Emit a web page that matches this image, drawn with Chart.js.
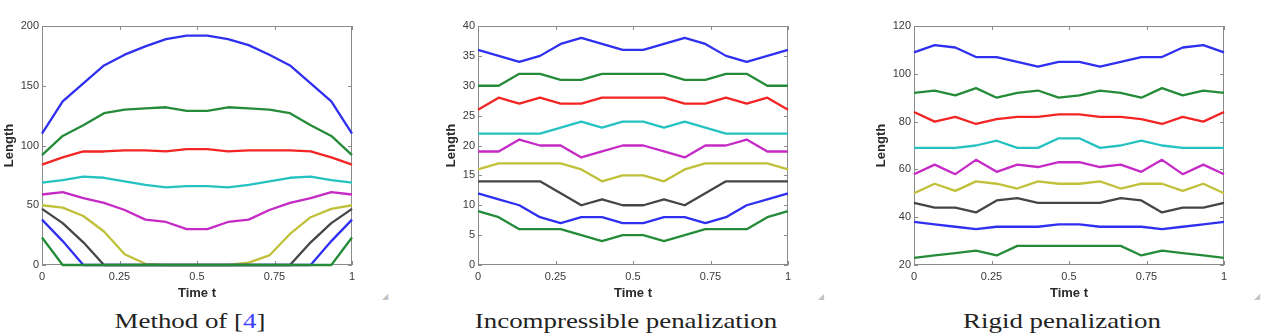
<!DOCTYPE html>
<html>
<head>
<meta charset="utf-8">
<script src="https://cdn.jsdelivr.net/npm/chart.js@4.4.1/dist/chart.umd.min.js"></script>
<style>
  body { margin: 0; background: #fff; width: 1263px; height: 336px; overflow: hidden; position: relative; }
  canvas { position: absolute; top: 0; }
  .caption {
    position: absolute; top: 309px; white-space: nowrap;
    font-family: "Liberation Serif", "Times New Roman", serif; font-size: 21px; color: #222;
    transform: translateX(-50%) scaleX(1.28);
  }
  .caption .ref { color: #4040ff; }
  .corner { position: absolute; top: 292px; font-size: 8px; color: #c4c4c4; font-family: "DejaVu Sans", sans-serif; }
</style>
</head>
<body>
<canvas id="c1"></canvas>
<canvas id="c2"></canvas>
<canvas id="c3"></canvas>
<div class="caption" style="left:190px">Method of [<span class="ref">4</span>]</div>
<div class="caption" style="left:626px">Incompressible penalization</div>
<div class="caption" style="left:1062px">Rigid penalization</div>
<div class="corner" style="left:382px">◢</div>
<div class="corner" style="left:818px">◢</div>
<div class="corner" style="left:1254px">◢</div>
<script>
// temps (16 instants entre 0 et 1)
const TIME = [0, 0.0667, 0.1333, 0.2, 0.2667, 0.3333, 0.4, 0.4667, 0.5333, 0.6, 0.6667, 0.7333, 0.8, 0.8667, 0.9333, 1];
const X_TICKS = [0, 0.25, 0.5, 0.75, 1];

// Method of [4]
const methodBlue    = [110, 137, 152, 167, 176, 183, 189, 192, 192, 189, 184, 176, 167, 152, 137, 110];
const methodGreen   = [92, 108, 117, 127, 130, 131, 132, 129, 129, 132, 131, 130, 127, 117, 108, 92];
const methodRed     = [84, 90, 95, 95, 96, 96, 95, 97, 97, 95, 96, 96, 96, 95, 90, 84];
const methodCyan    = [69, 71, 74, 73, 70, 67, 65, 66, 66, 65, 67, 70, 73, 74, 71, 69];
const methodMagenta = [59, 61, 56, 52, 46, 38, 36, 30, 30, 36, 38, 46, 52, 56, 61, 59];
const methodYellow  = [50, 48, 41, 28, 9, 1, 0, 0, 0, 0, 2, 8, 26, 40, 47, 50];
const methodBlack   = [47, 35, 19, 0, 0, 0, 0, 0, 0, 0, 0, 0, 0, 19, 35, 47];
const methodBlue2   = [38, 20, 0, 0, 0, 0, 0, 0, 0, 0, 0, 0, 0, 0, 20, 38];
const methodGreen2  = [23, 0, 0, 0, 0, 0, 0, 0, 0, 0, 0, 0, 0, 0, 0, 23];

// Incompressible penalization
const incBlue    = [36, 35, 34, 35, 37, 38, 37, 36, 36, 37, 38, 37, 35, 34, 35, 36];
const incGreen   = [30, 30, 32, 32, 31, 31, 32, 32, 32, 32, 31, 31, 32, 32, 30, 30];
const incRed     = [26, 28, 27, 28, 27, 27, 28, 28, 28, 28, 27, 27, 28, 27, 28, 26];
const incCyan    = [22, 22, 22, 22, 23, 24, 23, 24, 24, 23, 24, 23, 22, 22, 22, 22];
const incMagenta = [19, 19, 21, 20, 20, 18, 19, 20, 20, 19, 18, 20, 20, 21, 19, 19];
const incYellow  = [16, 17, 17, 17, 17, 16, 14, 15, 15, 14, 16, 17, 17, 17, 17, 16];
const incBlack   = [14, 14, 14, 14, 12, 10, 11, 10, 10, 11, 10, 12, 14, 14, 14, 14];
const incBlue2   = [12, 11, 10, 8, 7, 8, 8, 7, 7, 8, 8, 7, 8, 10, 11, 12];
const incGreen2  = [9, 8, 6, 6, 6, 5, 4, 5, 5, 4, 5, 6, 6, 6, 8, 9];

// Rigid penalization
const rigBlue    = [109, 112, 111, 107, 107, 105, 103, 105, 105, 103, 105, 107, 107, 111, 112, 109];
const rigGreen   = [92, 93, 91, 94, 90, 92, 93, 90, 91, 93, 92, 90, 94, 91, 93, 92];
const rigRed     = [84, 80, 82, 79, 81, 82, 82, 83, 83, 82, 82, 81, 79, 82, 80, 84];
const rigCyan    = [69, 69, 69, 70, 72, 69, 69, 73, 73, 69, 70, 72, 70, 69, 69, 69];
const rigMagenta = [58, 62, 58, 64, 59, 62, 61, 63, 63, 61, 62, 59, 64, 58, 62, 58];
const rigYellow  = [50, 54, 51, 55, 54, 52, 55, 54, 54, 55, 52, 54, 54, 51, 54, 50];
const rigBlack   = [46, 44, 44, 42, 47, 48, 46, 46, 46, 46, 48, 47, 42, 44, 44, 46];
const rigBlue2   = [38, 37, 36, 35, 36, 36, 36, 37, 37, 36, 36, 36, 35, 36, 37, 38];
const rigGreen2  = [23, 24, 25, 26, 24, 28, 28, 28, 28, 28, 28, 24, 26, 25, 24, 23];

// couleurs matlab (ordre par défaut)
const COLORS = ['#2f2ff0', '#248b38', '#f22424', '#26c2c2', '#c62ac6', '#c0c03a', '#454545', '#2f2ff0', '#248b38'];

const PLOT_W = 310, PLOT_TOP = 26, PLOT_BOTTOM = 265, CANVAS_H = 305, PAD_RIGHT = 10;

// boite + graduations vers l'intérieur
const boxPlugin = {
    id: 'matlabBox',
    beforeDatasetsDraw(chart) {
        const { ctx, chartArea: a, scales } = chart;
        const len = 4;
        ctx.save();
        ctx.strokeStyle = '#8a8a8a';
        ctx.lineWidth = 1;
        ctx.strokeRect(a.left + 0.5, a.top + 0.5, a.right - a.left - 1, a.bottom - a.top - 1);
        ctx.beginPath();
        scales.x.ticks.forEach(t => {
            const px = Math.round(scales.x.getPixelForValue(t.value)) + 0.5;
            ctx.moveTo(px, a.bottom); ctx.lineTo(px, a.bottom - len);
            ctx.moveTo(px, a.top); ctx.lineTo(px, a.top + len);
        });
        scales.y.ticks.forEach(t => {
            const py = Math.round(scales.y.getPixelForValue(t.value)) + 0.5;
            ctx.moveTo(a.left, py); ctx.lineTo(a.left + len, py);
            ctx.moveTo(a.right, py); ctx.lineTo(a.right - len, py);
        });
        ctx.stroke();
        ctx.restore();
    }
};

function makeChart(id, plotLeft, yW, series, yMin, yMax, yStep) {
    const canvas = document.getElementById(id);
    const w = yW + PLOT_W + PAD_RIGHT;
    canvas.width = w;
    canvas.height = CANVAS_H;
    canvas.style.left = (plotLeft - yW) + 'px';
    canvas.style.width = w + 'px';
    canvas.style.height = CANVAS_H + 'px';

    const datasets = series.map((vals, i) => ({
        data: vals.map((v, k) => ({ x: TIME[k], y: v })),
        borderColor: COLORS[i],
        borderWidth: 2.3,
        pointRadius: 0,
        tension: 0,
        fill: false,
        clip: false,
        borderJoinStyle: 'round',
        order: series.length - i // le dernier tracé passe au-dessus
    }));

    const tickFont = { family: '"Liberation Sans", Arial, sans-serif', size: 11 };
    const titleFont = { family: '"Liberation Sans", Arial, sans-serif', size: 13, weight: 'bold' };

    return new Chart(canvas, {
        type: 'line',
        data: { datasets },
        options: {
            responsive: false,
            animation: false,
            devicePixelRatio: 1,
            layout: { padding: { top: PLOT_TOP, right: PAD_RIGHT, left: 0, bottom: 0 } },
            plugins: { legend: { display: false }, tooltip: { enabled: false } },
            scales: {
                x: {
                    type: 'linear', min: 0, max: 1,
                    afterBuildTicks: s => { s.ticks = X_TICKS.map(v => ({ value: v })); },
                    afterFit: s => { s.height = CANVAS_H - PLOT_BOTTOM; },
                    grid: { display: false, drawTicks: false },
                    border: { display: false },
                    ticks: { font: tickFont, color: '#3a3a3a', padding: 5, maxRotation: 0,
                        callback: v => String(+v.toFixed(2)) },
                    title: { display: true, text: 'Time t', font: titleFont, color: '#2a2a2a',
                        padding: { top: 0, bottom: 4 } }
                },
                y: {
                    min: yMin, max: yMax,
                    afterFit: s => { s.width = yW; },
                    grid: { display: false, drawTicks: false },
                    border: { display: false },
                    ticks: { stepSize: yStep, font: tickFont, color: '#3a3a3a', padding: 3 },
                    title: { display: true, text: 'Length', font: titleFont, color: '#2a2a2a',
                        padding: 0 }
                }
            }
        },
        plugins: [boxPlugin]
    });
}

makeChart('c1', 42, 40,
    [methodBlue, methodGreen, methodRed, methodCyan, methodMagenta, methodYellow, methodBlack, methodBlue2, methodGreen2],
    0, 200, 50);
makeChart('c2', 478, 34,
    [incBlue, incGreen, incRed, incCyan, incMagenta, incYellow, incBlack, incBlue2, incGreen2],
    0, 40, 5);
makeChart('c3', 914, 40,
    [rigBlue, rigGreen, rigRed, rigCyan, rigMagenta, rigYellow, rigBlack, rigBlue2, rigGreen2],
    20, 120, 20);
</script>
</body>
</html>
